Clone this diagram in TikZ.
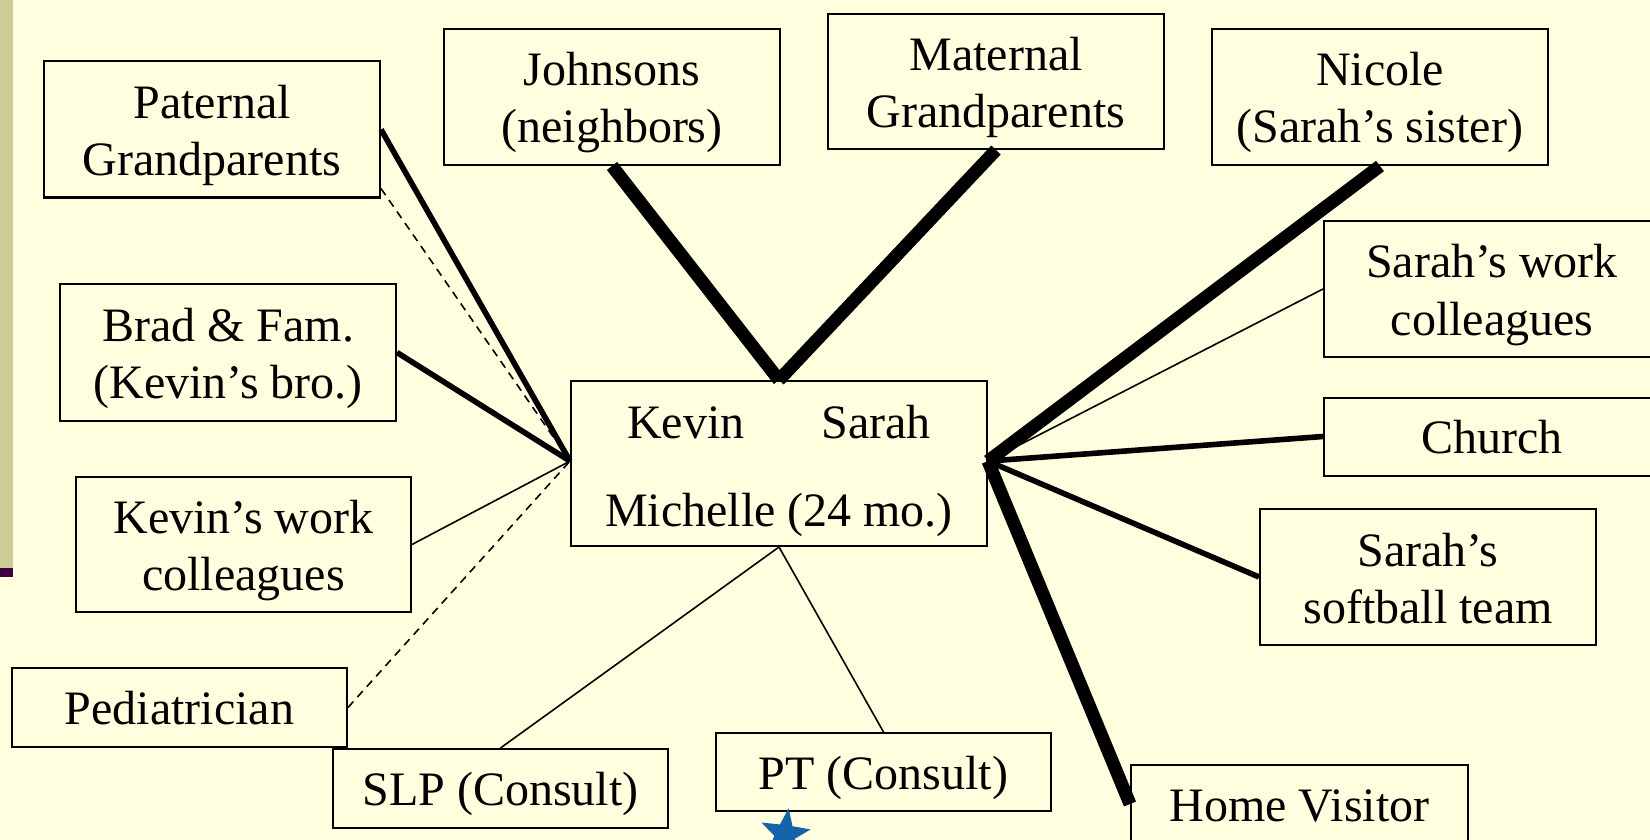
\documentclass[tikz,border=0pt]{standalone}
\usepackage{fontspec}
\setmainfont{Liberation Serif}
\usetikzlibrary{shapes.geometric}
\definecolor{bg}{RGB}{255,255,224}
\definecolor{barcol}{RGB}{204,204,153}
\definecolor{barend}{RGB}{64,0,64}
\definecolor{starblue}{RGB}{20,100,170}
\begin{document}
\begin{tikzpicture}[x=0.5pt,y=-0.5pt,
  box/.style={draw=black, line width=1pt, fill=bg, align=center, inner sep=0pt,
              font=\fontsize{24}{28.5}\selectfont},
  oneline/.style={box, text height=22pt, text depth=5pt},
  twoline/.style={box, text height=51pt, text depth=5pt},
  tieweak/.style={line width=0.8pt},
  tiemid/.style={line width=2.8pt},
  tiestrong/.style={line width=6.5pt},
  tiestress/.style={line width=0.8pt, dash pattern=on 4pt off 3pt}]
\useasboundingbox (0,0) rectangle (1650,840);
\clip (0,0) rectangle (1650,840);
\fill[bg] (0,0) rectangle (1650,840);
\fill[barcol] (0,0) rectangle (13,568);
\fill[barend] (0,568) rectangle (13,577);

% nodes
\node[twoline, minimum width=168pt, minimum height=68pt] (pat) at (212,129.5) {Paternal\\Grandparents};
\node[twoline, minimum width=168pt, minimum height=68pt] (john) at (612,97) {Johnsons\\(neighbors)};
\node[twoline, minimum width=168pt, minimum height=67.5pt] (mat) at (996,81.5) {Maternal\\Grandparents};
\node[twoline, minimum width=168pt, minimum height=68pt] (nic) at (1380,97) {Nicole\\(Sarah’s sister)};
\node[twoline, minimum width=168pt, minimum height=68pt] (sw) at (1492,289) {Sarah’s work\\colleagues};
\node[oneline, minimum width=168pt, minimum height=39pt] (church) at (1492,436.5) {Church};
\node[twoline, minimum width=168pt, minimum height=68pt] (soft) at (1428,577) {Sarah’s\\softball team};
\node[oneline, minimum width=168.5pt, minimum height=39pt] (home) at (1299.5,804) {Home Visitor};
\node[oneline, minimum width=167.5pt, minimum height=39pt] (pt) at (883.5,772) {PT (Consult)};
\node[oneline, minimum width=167.5pt, minimum height=39.5pt] (slp) at (500.5,788.5) {SLP (Consult)};
\node[oneline, minimum width=167.5pt, minimum height=39.5pt] (ped) at (179.5,707.5) {Pediatrician};
\node[twoline, minimum width=167.5pt, minimum height=67.5pt] (kw) at (243.5,544.5) {Kevin’s work\\colleagues};
\node[twoline, minimum width=168pt, minimum height=68.5pt] (brad) at (228,352.5) {Brad \& Fam.\\(Kevin’s bro.)};
\node[box, text height=67.5pt, text depth=5pt, minimum width=208pt, minimum height=82.5pt] (cen) at (779,463.5)
  {Kevin\hspace{38.5pt}Sarah\\[15.5pt]Michelle (24 mo.)};

% hubs
\coordinate (hl) at ([yshift=1.2pt]cen.west);
\coordinate (hr) at ([yshift=1.2pt]cen.east);
\coordinate (ht) at (cen.north);
\coordinate (hb) at (cen.south);
\coordinate (patd) at ([yshift=5pt]pat.south east);

% connectors
\draw[tiemid] (pat.east) -- (hl);
\draw[tiestress] (patd) -- (hl);
\draw[tiemid] (brad.east) -- (hl);
\draw[tieweak] (kw.east) -- (hl);
\draw[tiestress] (ped.east) -- (hl);
\draw[tiestrong] (john.south) -- (ht);
\draw[tiestrong] (mat.south) -- (ht);
\draw[tiestrong] (nic.south) -- (hr);
\draw[tieweak] (sw.west) -- (hr);
\draw[tiemid] (church.west) -- (hr);
\draw[tiemid] (soft.west) -- (hr);
\draw[tiestrong] (home.west) -- (hr);
\draw[tieweak] (slp.north) -- (hb);
\draw[tieweak] (pt.north) -- (hb);

% star
\node[star, star points=5, star point ratio=2.4, fill=starblue, inner sep=0pt,
      minimum size=26pt, rotate=-8] (star) at (785,834) {};
\end{tikzpicture}
\end{document}
